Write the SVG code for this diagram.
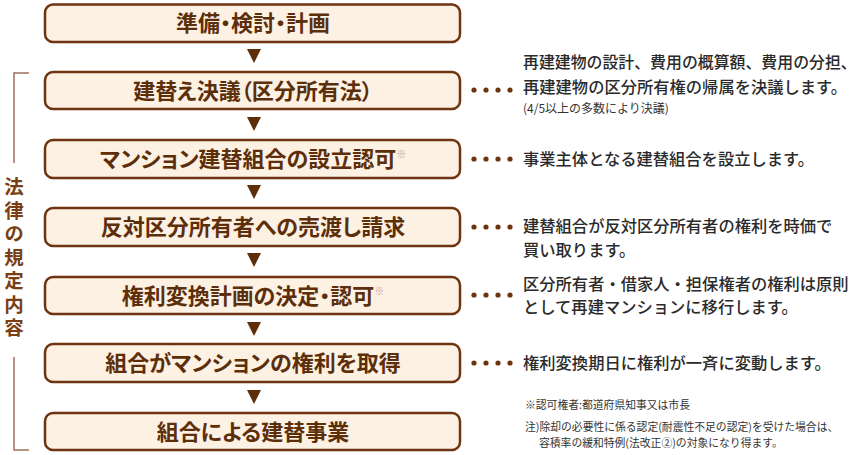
<svg xmlns="http://www.w3.org/2000/svg" width="855" height="455" viewBox="0 0 855 455">
<style>
.box{fill:#fdf1e3;stroke:#6e3410;stroke-width:2.5}
.bt{font-family:"Noto Sans CJK JP","Noto Sans",sans-serif;font-weight:bold;font-size:22px;fill:#5c2e0a;text-anchor:middle;font-feature-settings:"palt"}
.sup{font-family:"Noto Sans CJK JP",sans-serif;font-size:10px;fill:#c0a090;font-weight:normal}
.rt{font-family:"Noto Sans CJK JP","Noto Sans",sans-serif;font-size:16.3px;font-weight:500;fill:#2a2a2a}
.sm{font-family:"Noto Sans CJK JP","Noto Sans",sans-serif;font-size:10.8px;fill:#333333}
.vt{font-family:"Noto Sans CJK JP",sans-serif;font-weight:bold;font-size:19.5px;fill:#7a3e14;writing-mode:vertical-rl;letter-spacing:4px}
.arr{fill:#5c2e0a}
.dot{fill:#6e3410}
.br{fill:none;stroke:#a07058;stroke-width:1.5}
</style>
<defs>
<g id="dots"><circle cx="474" cy="0" r="2.6"/><circle cx="486" cy="0" r="2.6"/><circle cx="498" cy="0" r="2.6"/><circle cx="510" cy="0" r="2.6"/></g>
</defs>
<g id="bracket">
<path class="br" d="M29 73 H14 V163"/>
<path class="br" d="M14 357 V450 H29"/>
<text class="vt" x="14" y="177">法律の規定内容</text>
</g>
<g id="n1"><rect class="box" x="45" y="4.5" width="415" height="37.5" rx="8"/><text class="bt" x="253" y="31">準備・検討・計画</text></g>
<g id="n2"><rect class="box" x="45" y="72" width="415" height="37" rx="8"/><text class="bt" x="253" y="98.5">建替え決議（区分所有法）</text></g>
<g id="n3"><rect class="box" x="45" y="140" width="415" height="38" rx="8"/><text class="bt" x="253" y="167">マンション建替組合の設立認可<tspan class="sup" dy="-9">※</tspan></text></g>
<g id="n4"><rect class="box" x="45" y="208" width="415" height="38" rx="8"/><text class="bt" x="253" y="235">反対区分所有者への売渡し請求</text></g>
<g id="n5"><rect class="box" x="45" y="277" width="415" height="37" rx="8"/><text class="bt" x="253" y="303.5">権利変換計画の決定・認可<tspan class="sup" dy="-9">※</tspan></text></g>
<g id="n6"><rect class="box" x="45" y="344" width="415" height="38" rx="8"/><text class="bt" x="253" y="371">組合がマンションの権利を取得</text></g>
<g id="n7"><rect class="box" x="45" y="413" width="415" height="37" rx="8"/><text class="bt" x="253" y="439.5">組合による建替事業</text></g>
<g id="connectors">
<polygon class="arr" points="247,49 261,49 254,63"/>
<polygon class="arr" points="247,117 261,117 254,131"/>
<polygon class="arr" points="247,185 261,185 254,199"/>
<polygon class="arr" points="247,253 261,253 254,267"/>
<polygon class="arr" points="247,322 261,322 254,336"/>
<polygon class="arr" points="247,390 261,390 254,404"/>
<use href="#dots" class="dot" y="90"/>
<use href="#dots" class="dot" y="159"/>
<use href="#dots" class="dot" y="227"/>
<use href="#dots" class="dot" y="295"/>
<use href="#dots" class="dot" y="363"/>
</g>
<g id="notes">
<text class="rt" x="523" y="68" style="font-size:15.9px">再建建物の設計、費用の概算額、費用の分担、</text>
<text class="rt" x="523" y="93">再建建物の区分所有権の帰属を決議します。</text>
<text class="sm" x="523" y="113" style="font-size:12px">(4/5以上の多数により決議)</text>
<text class="rt" x="523" y="165">事業主体となる建替組合を設立します。</text>
<text class="rt" x="523" y="232">建替組合が反対区分所有者の権利を時価で</text>
<text class="rt" x="523" y="255.6">買い取ります。</text>
<text class="rt" x="523" y="289.5">区分所有者・借家人・担保権者の権利は原則</text>
<text class="rt" x="523" y="313.1">として再建マンションに移行します。</text>
<text class="rt" x="523" y="369">権利変換期日に権利が一斉に変動します。</text>
<text class="sm" x="525" y="409">※認可権者:都道府県知事又は市長</text>
<text class="sm" x="525" y="431">注)除却の必要性に係る認定(耐震性不足の認定)を受けた場合は、</text>
<text class="sm" x="539" y="447">容積率の緩和特例(法改正②)の対象になり得ます。</text>
</g>
</svg>
